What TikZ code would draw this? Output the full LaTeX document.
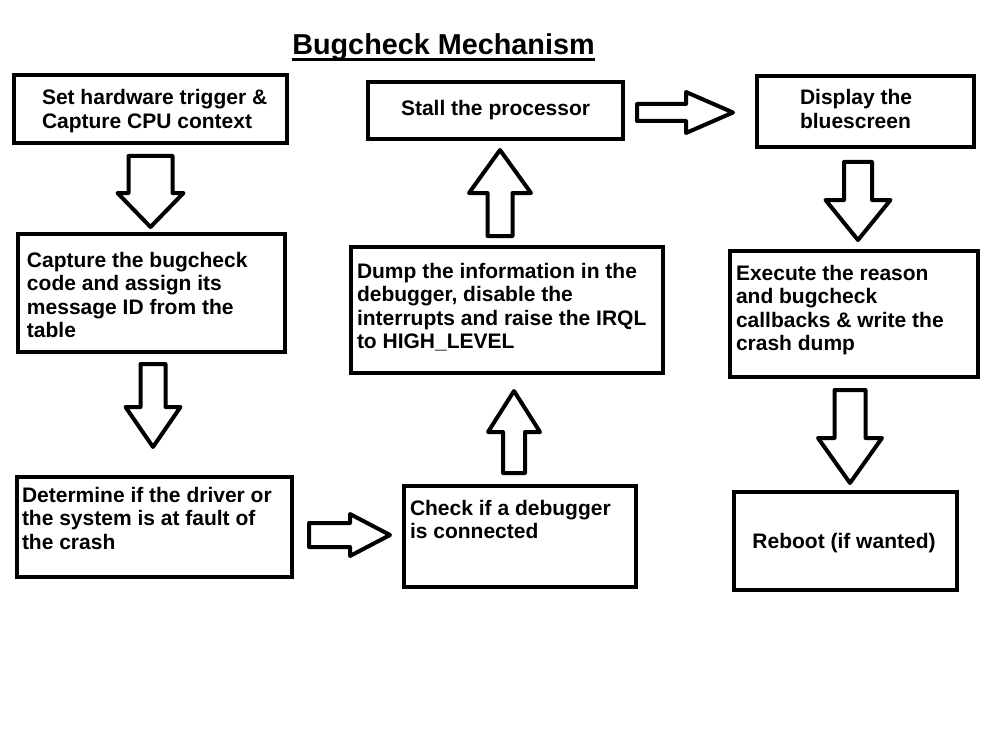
\documentclass[tikz,border=0pt]{standalone}
\usepackage{fontspec}
\setmainfont{Liberation Sans}
\usetikzlibrary{calc}
\newcommand\stacklines[1]{\begin{tabular}[t]{@{}l@{}}#1\end{tabular}}
\begin{document}
\begin{tikzpicture}[x=1pt,y=-1pt,
  box/.style={draw=black,line width=4pt,outer sep=0pt,inner sep=0pt,fill=white},
  txt/.style={inner sep=0pt,outer sep=0pt,anchor=base west,font=\fontsize{21}{23.6}\selectfont\bfseries},
  arrowline/.style={draw=black,line width=4pt,line join=round,fill=white},
  blockarrow/.style n args={3}{to path={let \p1=(\tikztostart),\p2=(\tikztotarget),\n1={atan2(\y2-\y1,\x2-\x1)} in
    ($(\p1)+(\n1+90:#1pt)$) -- ($(\p2)+(\n1:-#3pt)+(\n1+90:#1pt)$) -- ($(\p2)+(\n1:-#3pt)+(\n1+90:#2pt)$) -- (\p2)
    -- ($(\p2)+(\n1:-#3pt)+(\n1-90:#2pt)$) -- ($(\p2)+(\n1:-#3pt)+(\n1-90:#1pt)$) -- ($(\p1)+(\n1-90:#1pt)$) -- cycle}}
]
\fill[white] (0,0) rectangle (1004,749);
\useasboundingbox (0,0) rectangle (1004,749);

% title
\node[inner sep=0pt,anchor=base,font=\fontsize{28.8}{30}\selectfont\bfseries] (title) at (443.5,55) {Bugcheck Mechanism};
\draw[line width=3.5pt] ($(title.base west)+(0,4.7)$) -- ($(title.base east)+(0,4.7)$);

% boxes
\node[box,minimum width=273pt,minimum height=68pt] (A) at (150.5,109) {};
\node[box,minimum width=267pt,minimum height=118pt] (B) at (151.5,293) {};
\node[box,minimum width=275pt,minimum height=100pt] (C) at (154.5,527) {};
\node[box,minimum width=232pt,minimum height=101pt] (D) at (520,536.5) {};
\node[box,minimum width=312pt,minimum height=126pt] (E) at (507,310) {};
\node[box,minimum width=255pt,minimum height=57pt] (F) at (495.5,110.5) {};
\node[box,minimum width=217pt,minimum height=71pt] (G) at (865.5,111.5) {};
\node[box,minimum width=248pt,minimum height=126pt] (H) at (854,314) {};
\node[box,minimum width=223pt,minimum height=98pt] (I) at (845.5,541) {};

% texts
\node[txt] (tA) at (42,104.5) {\stacklines{Set hardware trigger \&\\Capture CPU context}};
\node[txt] (tB) at (27,267) {\stacklines{Capture the bugcheck\\code and assign its\\message ID from the\\table}};
\node[txt] (tC) at (22,502) {\stacklines{Determine if the driver or\\the system is at fault of\\the crash}};
\node[txt] (tD) at (410,515) {\stacklines{Check if a debugger\\is connected}};
\node[txt] (tE) at (357,278) {\stacklines{Dump the information in the\\debugger, disable the\\interrupts and raise the IRQL\\to HIGH\_LEVEL}};
\node[txt] (tF) at (401,116) {Stall the processor};
\node[txt] (tG) at (800,105) {\stacklines{Display the\\bluescreen}};
\node[txt] (tH) at (736,280) {\stacklines{Execute the reason\\and bugcheck\\callbacks \& write the\\crash dump}};
\node[txt,anchor=base] (tI) at (844,548) {Reboot (if wanted)};

% arrow end points
\coordinate (s1) at ($(A.south)+(0,13)$);
\coordinate (e1) at ($(A.south |- B.north)+(0,-7)$);
\coordinate (s2) at ($(B.south)+(1.5,12)$);
\coordinate (e2) at ($(s2 |- C.north)+(0,-30)$);
\coordinate (s3) at ($(C.east)+(17,8)$);
\coordinate (e3) at ($(s3 -| D.west)+(-14,0)$);
\coordinate (s4) at ($(D.north)+(-6,-13)$);
\coordinate (e4) at ($(s4 |- E.south)+(0,18)$);
\coordinate (s5) at ($(E.north)+(-7,-11)$);
\coordinate (e5) at ($(s5 |- F.south)+(0,11)$);
\coordinate (s6) at ($(F.east)+(14,2)$);
\coordinate (e6) at ($(s6 -| G.west)+(-24,0)$);
\coordinate (s7) at ($(G.south)+(-7.5,15)$);
\coordinate (e7) at ($(s7 |- H.north)+(0,-11)$);
\coordinate (s8) at ($(H.south)+(-4,13)$);
\coordinate (e8) at ($(s8 |- I.north)+(0,-9)$);

% block arrows
\draw[arrowline] (s1) to[blockarrow={22}{33}{34}] (e1);
\draw[arrowline] (s2) to[blockarrow={12.5}{27.5}{40}] (e2);
\draw[arrowline] (s3) to[blockarrow={12}{21}{40}] (e3);
\draw[arrowline] (s4) to[blockarrow={11}{26}{41}] (e4);
\draw[arrowline] (s5) to[blockarrow={12.5}{31}{43}] (e5);
\draw[arrowline] (s6) to[blockarrow={8.5}{20.5}{47}] (e6);
\draw[arrowline] (s7) to[blockarrow={14}{32.5}{40}] (e7);
\draw[arrowline] (s8) to[blockarrow={15.5}{32}{45}] (e8);
\end{tikzpicture}
\end{document}
